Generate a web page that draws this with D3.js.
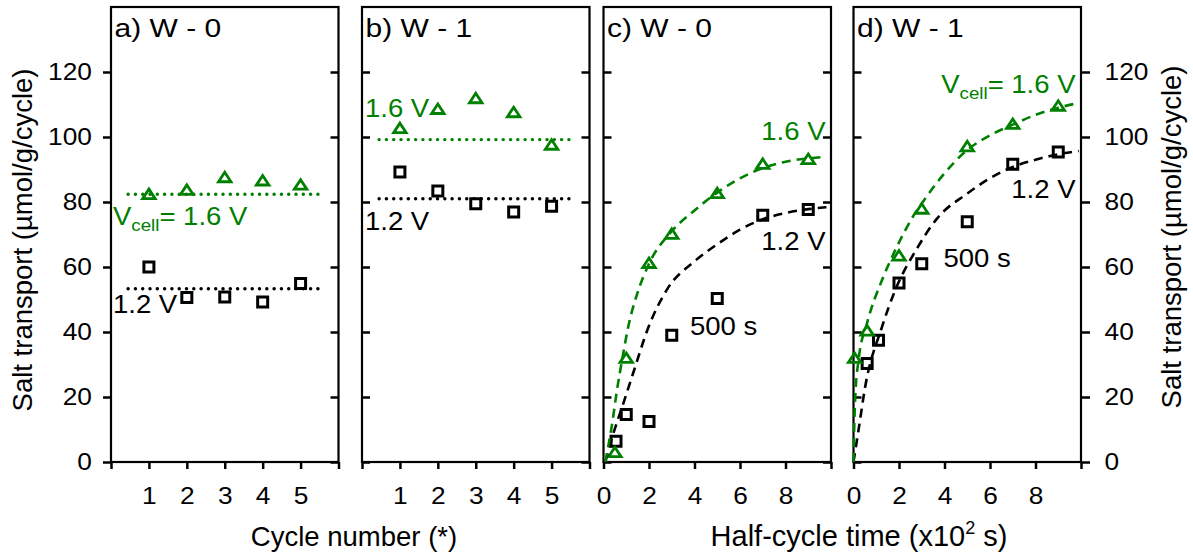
<!DOCTYPE html>
<html>
<head>
<meta charset="utf-8">
<script src="https://cdn.jsdelivr.net/npm/d3@7/dist/d3.min.js"></script>
<style>
    body { margin: 0; background: #fff; }
    svg text { font-family: "Liberation Sans", Arial, sans-serif; fill: #000; }
</style>
</head>
<body>
<svg id="chart" width="1193" height="555"></svg>
<script>
const GREEN = "#008000";

// panels a, b: salt transport per cycle
const cycleNo = [1, 2, 3, 4, 5];
const w0Cycle16 = [82.5, 83.8, 87.7, 86.7, 85.4];
const w0Cycle12 = [60.0, 50.6, 50.8, 49.2, 54.9];
const w1Cycle16 = [102.8, 108.7, 112.0, 107.7, 97.7];
const w1Cycle12 = [89.2, 83.4, 79.5, 76.9, 78.7];
const w0Mean16 = 82.4, w0Mean12 = 53.3;
const w1Mean16 = 99.2, w1Mean12 = 81.0;
const meanSpan = [0.45, 5.5];

// panels c, d: salt transport vs half-cycle time (x10^2 s)
const w0Time16 = [0.5, 1, 2, 3, 5, 7, 9];
const w0Salt16 = [3.1, 32.1, 61.3, 70.3, 82.8, 91.8, 93.3];
const w0Time12 = [0.55, 1, 2, 3, 5, 7, 9];
const w0Salt12 = [6.4, 14.6, 12.5, 39.0, 50.3, 75.9, 77.7];
const w1Time16 = [0.05, 0.6, 2, 3, 5, 7, 9];
const w1Salt16 = [32.1, 40.5, 63.6, 78.0, 97.2, 104.1, 109.7];
const w1Time12 = [0.6, 1.1, 2, 3, 5, 7, 9];
const w1Salt12 = [30.3, 37.5, 55.1, 61.0, 73.9, 91.6, 95.4];

// fitted curves as [time, transport]
const w0Fit16 = [[0.08, 0], [0.15, 2.6], [0.37, 11.3], [0.59, 22], [0.84, 32.3], [1.1, 42], [1.47, 51.5],
    [2, 61], [3, 71], [4, 77.4], [5, 82.9], [6, 87.3], [7, 90.4], [8, 92.4], [9, 93.4], [9.8, 93.9]];
const w0Fit12 = [[0.08, 0], [0.4, 8], [0.88, 18.2], [1.32, 27.7], [1.95, 41], [2.83, 53.5], [3.96, 61.5],
    [5, 67], [6, 71.5], [7, 74.7], [8, 76.6], [9, 77.8], [9.8, 78.4]];
const w1Fit16 = [[0, 0], [0.03, 10], [0.07, 19], [0.22, 31.3], [0.59, 42.6], [1.25, 55.9], [1.83, 65.1],
    [2.57, 75], [3.3, 82.5], [3.96, 88.5], [5, 96], [6, 100.5], [7, 103.8], [8, 106.8], [9, 109], [9.85, 110.4]];
const w1Fit12 = [[0, 0], [0.22, 9.8], [0.51, 23], [1.25, 41.5], [1.83, 52.8], [2.79, 65.7], [3.67, 74.9],
    [5, 82.6], [6, 87.3], [7, 90.8], [8, 93], [9, 94.7], [9.9, 95.7]];

const yTicks = [0, 20, 40, 60, 80, 100, 120];
const cycleTicks = [0, 1, 2, 3, 4, 5, 6];
const cycleLabels = [1, 2, 3, 4, 5];
const timeTicks = [0, 2, 4, 6, 8, 10];
const timeLabels = [0, 2, 4, 6, 8];

const svg = d3.select("#chart");
const TOP = 7, BOTTOM = 462, PW = 227.5;
const TICK_SX = 1.12, NOTE_SX = 1.1, TITLE_SX = 1.2;

const panels = [
    { x0: 111, title: "a) W - 0", type: "cycle", yLeft: "labels", yRight: "in",
      s16: w0Cycle16, s12: w0Cycle12, m16: w0Mean16, m12: w0Mean12,
      notes: [{ t: "vcell", x: 2, y: 225, c: GREEN }, { t: "1.2 V", x: 2, y: 313 }] },
    { x0: 362, title: "b) W - 1", type: "cycle", yLeft: "in", yRight: "in",
      s16: w1Cycle16, s12: w1Cycle12, m16: w1Mean16, m12: w1Mean12,
      notes: [{ t: "1.6 V", x: 3, y: 117, c: GREEN }, { t: "1.2 V", x: 3, y: 230 }] },
    { x0: 603.5, title: "c) W - 0", type: "time", yLeft: "in", yRight: "in",
      t16: w0Time16, s16: w0Salt16, t12: w0Time12, s12: w0Salt12, f16: w0Fit16, f12: w0Fit12,
      notes: [{ t: "1.6 V", x: 222, y: 140, c: GREEN, end: true }, { t: "1.2 V", x: 222, y: 250, end: true },
              { t: "500 s", x: 86.5, y: 335 }] },
    { x0: 853.5, title: "d) W - 1", type: "time", yLeft: "in", yRight: "labels",
      t16: w1Time16, s16: w1Salt16, t12: w1Time12, s12: w1Salt12, f16: w1Fit16, f12: w1Fit12,
      notes: [{ t: "vcell", x: 222, y: 93, c: GREEN, end: true }, { t: "1.2 V", x: 222, y: 198, end: true },
              { t: "500 s", x: 90, y: 267 }] }
];

const y = d3.scaleLinear().domain([0, 140]).range([BOTTOM, TOP]);

function squarePath(s) {
    return `M${-s / 2},${-s / 2}h${s}v${s}h${-s}Z`;
}
function trianglePath(w, h) {
    return `M0,${-h / 2}L${w / 2},${h / 2}L${-w / 2},${h / 2}Z`;
}

function styleAxis(g) {
    g.select(".domain").remove();
    g.selectAll(".tick line").attr("stroke", "#000").attr("stroke-width", 2.5);
    g.selectAll(".tick text")
        .attr("font-size", 23.5).attr("fill", "#000")
        .attr("transform", `scale(${TICK_SX},1)`);
}

panels.forEach(p => {
    const g = svg.append("g").attr("transform", `translate(${p.x0},0)`);
    const x = d3.scaleLinear()
        .domain(p.type === "cycle" ? [0, 6] : [0, 10])
        .range([0, PW]);

    // axes
    const leftAx = d3.axisLeft(y).tickValues(yTicks);
    if (p.yLeft === "labels") leftAx.tickSize(8).tickPadding(9);
    else leftAx.tickSize(-8).tickFormat("");
    g.append("g").call(leftAx).call(styleAxis);

    const rightAx = d3.axisRight(y).tickValues(yTicks);
    if (p.yRight === "labels") rightAx.tickSize(9).tickPadding(12);
    else rightAx.tickSize(-8).tickFormat("");
    g.append("g").attr("transform", `translate(${PW},0)`).call(rightAx).call(styleAxis);

    const labels = p.type === "cycle" ? cycleLabels : timeLabels;
    const bottomAx = d3.axisBottom(x)
        .tickValues(p.type === "cycle" ? cycleTicks : timeTicks)
        .tickSize(7).tickPadding(18)
        .tickFormat(d => labels.includes(d) ? d : "");
    g.append("g").attr("transform", `translate(0,${BOTTOM})`).call(bottomAx).call(styleAxis);

    // frame
    g.append("rect")
        .attr("x", 0).attr("y", TOP)
        .attr("width", PW).attr("height", BOTTOM - TOP)
        .attr("fill", "none").attr("stroke", "#000").attr("stroke-width", 2.2);

    // title
    g.append("text")
        .attr("transform", `translate(3.5,37) scale(${TITLE_SX},1)`)
        .attr("font-size", 25).attr("xml:space", "preserve")
        .text(p.title);

    if (p.type === "cycle") {
        // mean lines (dotted)
        [[p.m16, GREEN], [p.m12, "#000"]].forEach(([m, col]) => {
            g.append("line")
                .attr("x1", x(meanSpan[0])).attr("x2", x(meanSpan[1]))
                .attr("y1", y(m)).attr("y2", y(m))
                .attr("stroke", col).attr("stroke-width", 3.4)
                .attr("stroke-linecap", "round")
                .attr("stroke-dasharray", "0.1,7.2");
        });
        g.selectAll(".sq").data(cycleNo).join("path")
            .attr("transform", (d, i) => `translate(${x(d)},${y(p.s12[i])})`)
            .attr("d", squarePath(10))
            .attr("fill", "#fff").attr("stroke", "#000").attr("stroke-width", 3);
        g.selectAll(".tri").data(cycleNo).join("path")
            .attr("transform", (d, i) => `translate(${x(d)},${y(p.s16[i])})`)
            .attr("d", trianglePath(12.5, 9.5))
            .attr("fill", "none").attr("stroke", GREEN).attr("stroke-width", 2.8);
    } else {
        const line = d3.line().x(d => x(d[0])).y(d => y(d[1])).curve(d3.curveMonotoneX);
        g.selectAll(".sq").data(p.t12).join("path")
            .attr("transform", (d, i) => `translate(${x(d)},${y(p.s12[i])})`)
            .attr("d", squarePath(10))
            .attr("fill", "#fff").attr("stroke", "#000").attr("stroke-width", 3);
        g.selectAll(".tri").data(p.t16).join("path")
            .attr("transform", (d, i) => `translate(${x(d)},${y(p.s16[i])})`)
            .attr("d", trianglePath(12.5, 9.5))
            .attr("fill", "none").attr("stroke", GREEN).attr("stroke-width", 2.8);
        g.append("path").attr("d", line(p.f12))
            .attr("fill", "none").attr("stroke", "#000").attr("stroke-width", 2.6)
            .attr("stroke-dasharray", "9,6");
        g.append("path").attr("d", line(p.f16))
            .attr("fill", "none").attr("stroke", GREEN).attr("stroke-width", 2.6)
            .attr("stroke-dasharray", "9,6");
    }

    // annotations
    p.notes.forEach(n => {
        const t = g.append("text")
            .attr("transform", `translate(${n.x},${n.y}) scale(${NOTE_SX},1)`)
            .attr("font-size", 25)
            .attr("text-anchor", n.end ? "end" : "start")
            .style("fill", n.c || "#000");
        if (n.t === "vcell") {
            t.append("tspan").text("V");
            t.append("tspan").attr("font-size", 17).attr("dy", 6).text("cell");
            t.append("tspan").attr("dy", -6).text("= 1.6 V");
        } else {
            t.text(n.t);
        }
    });
});

// axis titles
const yTitle = "Salt transport (\u00b5mol/g/cycle)";
svg.append("text")
    .attr("transform", "translate(32,240) rotate(-90)")
    .attr("text-anchor", "middle").attr("font-size", 27.5)
    .text(yTitle);
svg.append("text")
    .attr("transform", "translate(1181,237) rotate(-90)")
    .attr("text-anchor", "middle").attr("font-size", 27.5)
    .text(yTitle);

svg.append("text")
    .attr("x", 354).attr("y", 546)
    .attr("text-anchor", "middle").attr("font-size", 27.5)
    .text("Cycle number (*)");

const xt = svg.append("text")
    .attr("x", 859).attr("y", 546)
    .attr("text-anchor", "middle").attr("font-size", 29);
xt.append("tspan").text("Half-cycle time (x10");
xt.append("tspan").attr("font-size", 18).attr("dy", -12).text("2");
xt.append("tspan").attr("dy", 12).text(" s)");
</script>
</body>
</html>
